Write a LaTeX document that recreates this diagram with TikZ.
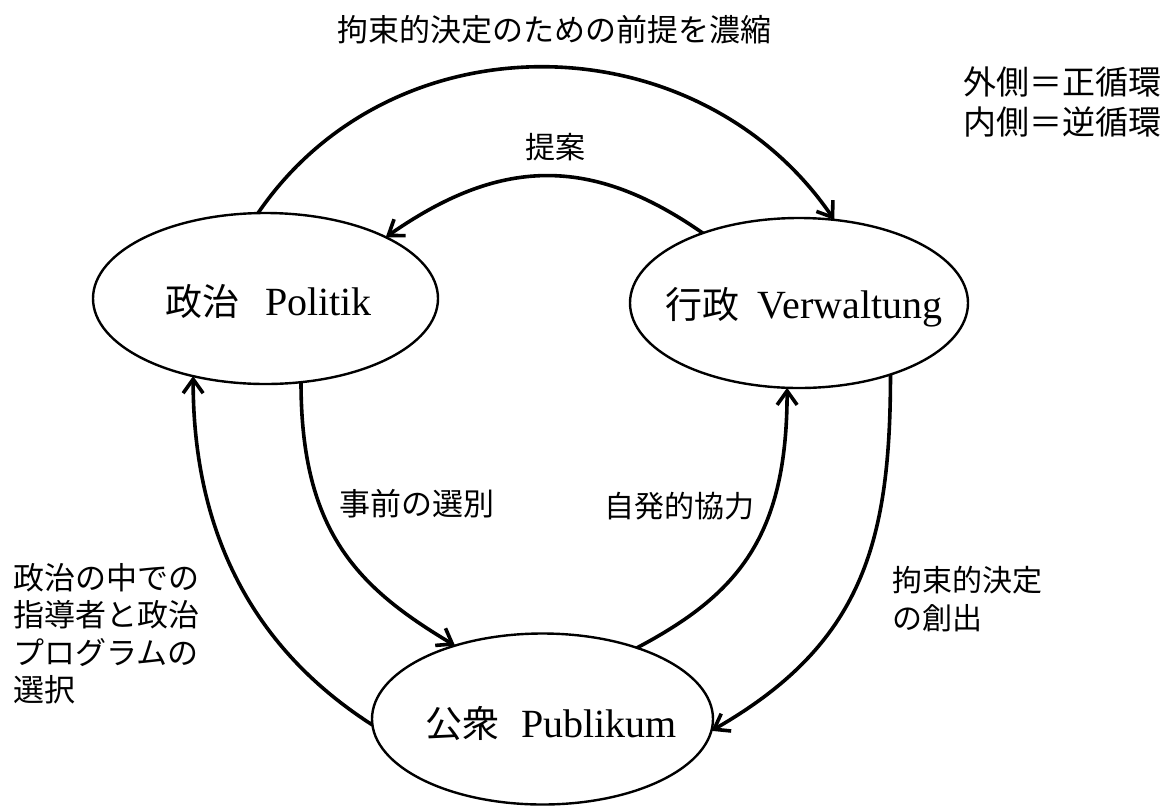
\documentclass[tikz,border=0pt]{standalone}
\usepackage{fontspec}
\setmainfont{Liberation Serif}
\newfontfamily\cjk{Noto Sans CJK JP}
\usetikzlibrary{arrows.meta,shapes.geometric}
\begin{document}
\begin{tikzpicture}[x=1pt,y=-1pt,
  ell/.style={draw, ellipse, line width=2.4pt, inner sep=0pt, outer sep=0pt},
  arr/.style={line width=3.6pt, -{Straight Barb[length=14pt,width=20pt]}},
  nm/.style={font=\fontsize{40}{42}\selectfont, inner sep=0pt, anchor=base},
  jp/.style={font=\cjk\fontsize{31}{37.5}\selectfont, inner sep=0pt, align=left},
]
\useasboundingbox (0,0) rectangle (1170,807);

% ellipses
\node[ell, minimum width=345pt, minimum height=171pt] (pol) at (265.5,298.5) {};
\node[ell, minimum width=338pt, minimum height=170pt] (ver) at (799,303) {};
\node[ell, minimum width=341pt, minimum height=171pt] (pub) at (542.5,719) {};

\node[nm] (polt) at (268.5,315) {{\cjk\fontsize{37}{42}\selectfont 政治}\hspace{26pt}Politik};
\node[nm] (vert) at (804,318) {{\cjk\fontsize{37}{42}\selectfont 行政}\hspace{18pt}Verwaltung};
\node[nm] (pubt) at (551,737) {{\cjk\fontsize{37}{42}\selectfont 公衆}\hspace{22pt}Publikum};

% labels
\node[jp] (title) at (554.5,30) {拘束的決定のための前提を濃縮};
\node[jp, font=\cjk\fontsize{30}{37.5}\selectfont] (teian) at (555,147) {提案};
\node[jp, font=\cjk\fontsize{33}{40}\selectfont, anchor=west] (legend) at (963,102) {外側＝正循環\\内側＝逆循環};
\node[jp] (jizen) at (416.5,504) {事前の選別};
\node[jp, font=\cjk\fontsize{30}{37.5}\selectfont] (jihatsu) at (679.5,506) {自発的協力};
\node[jp, font=\cjk\fontsize{30}{37.5}\selectfont, anchor=west] (sou) at (892,599) {拘束的決定\\の創出};
\node[jp, anchor=west] (senta) at (13,633.5) {政治の中での\\指導者と政治\\プログラムの\\選択};

% connectors
\draw[arr] (pol.95.7) .. controls +(136,-199) and +(-136,-199) .. (ver.67.7);
\draw[arr] (ver.144.4) .. controls +(-113,-79) and +(113,-79) .. (pol.27.8);
\draw[arr] (pub.182.7) .. controls +(-100,-64) and +(0,180) .. (pol.227.3);
\draw[arr] (pol.293.1) .. controls +(0,150) and +(-97,-58) .. (pub.140.7);
\draw[arr] (pub.37.3) .. controls +(100,-53) and +(0,150) .. (ver.262);
\draw[arr] (ver.322.2) .. controls +(0,170) and +(150,-86) .. (pub.356.3);
\end{tikzpicture}
\end{document}
